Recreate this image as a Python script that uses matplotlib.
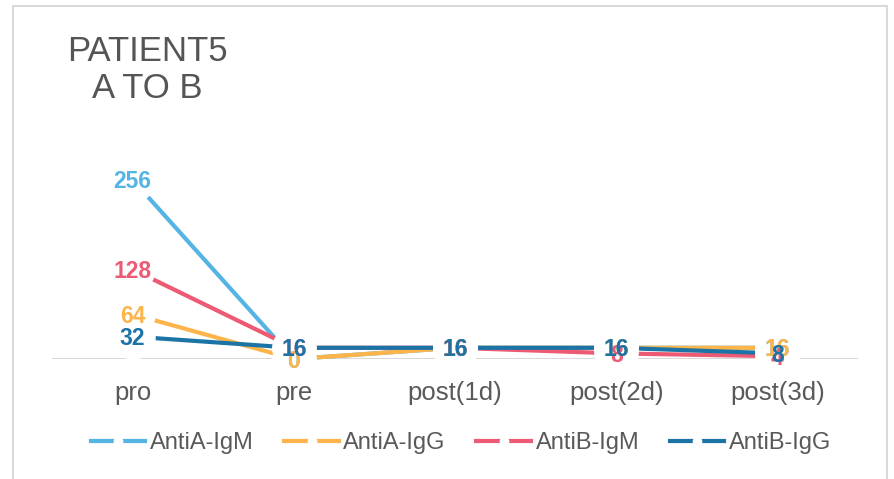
import matplotlib
matplotlib.use("Agg")
import matplotlib.pyplot as plt
from matplotlib.lines import Line2D
from matplotlib.patches import Rectangle

plt.rcParams["font.family"] = ["Liberation Sans", "DejaVu Sans"]

# titres per sampling day
days = ["pro", "pre", "post(1d)", "post(2d)", "post(3d)"]
anti_a_igm = [256, 0, 16, 16, 16]
anti_a_igg = [64, 0, 16, 16, 16]
anti_b_igm = [128, 16, 16, 8, 4]
anti_b_igg = [32, 16, 16, 16, 8]

series = [
    ("AntiA-IgM", anti_a_igm, "#55B4E4"),
    ("AntiA-IgG", anti_a_igg, "#FDB54B"),
    ("AntiB-IgM", anti_b_igm, "#EC5A73"),
    ("AntiB-IgG", anti_b_igg, "#1C74A6"),
]

fig = plt.figure(figsize=(8.94, 4.79), dpi=100)
ax = fig.add_axes([52 / 894, 120 / 479, 806 / 894, 210 / 479])

x = list(range(len(days)))
ax.axhline(0, color="#D9D9D9", lw=1.5, zorder=1)

for name, vals, col in series:
    ax.plot(x, vals, color=col, lw=3, solid_capstyle="butt", zorder=2, clip_on=False)

# white markers break the lines around each point
for name, vals, col in series:
    ax.plot(x, vals, ls="none", marker="o", ms=32, mfc="white", mec="none",
            zorder=3, clip_on=False)

for name, vals, col in series:
    for xi, v in zip(x, vals):
        ax.annotate(str(v), (xi, v), xytext=(0, -1.5), textcoords="offset points",
                    ha="center", va="center", fontsize=16.5, fontweight="bold",
                    color=col, zorder=4, annotation_clip=False)

ax.set_xlim(-0.5, 4.5)
ax.set_ylim(0, 300)
ax.set_xticks(x)
ax.set_xticklabels(days, fontsize=18.5, color="#595959")
ax.tick_params(axis="x", length=0, pad=16)
ax.set_yticks([])
for s in ax.spines.values():
    s.set_visible(False)

fig.text(147 / 894, 1 - 70 / 479, "PATIENT5\nA TO B", ha="center", va="center",
         fontsize=25, color="#555555", linespacing=1.15)

handles = [Line2D([0], [0], color=col, lw=3, marker="o", ms=7, mfc="white", mec="none")
           for name, vals, col in series]
fig.legend(handles, [s[0] for s in series], loc="center", ncol=4,
           bbox_to_anchor=(461 / 894, 1 - 443 / 479), frameon=False, fontsize=17,
           handlelength=2.3, handletextpad=0.2, columnspacing=1.3,
           labelcolor="#595959")

fig.patches.append(Rectangle((13 / 894, -0.1), 874 / 894, 1.1 - 6 / 479,
                             transform=fig.transFigure, fill=False,
                             edgecolor="#D9D9D9", lw=1.5))

plt.savefig("out.png")
